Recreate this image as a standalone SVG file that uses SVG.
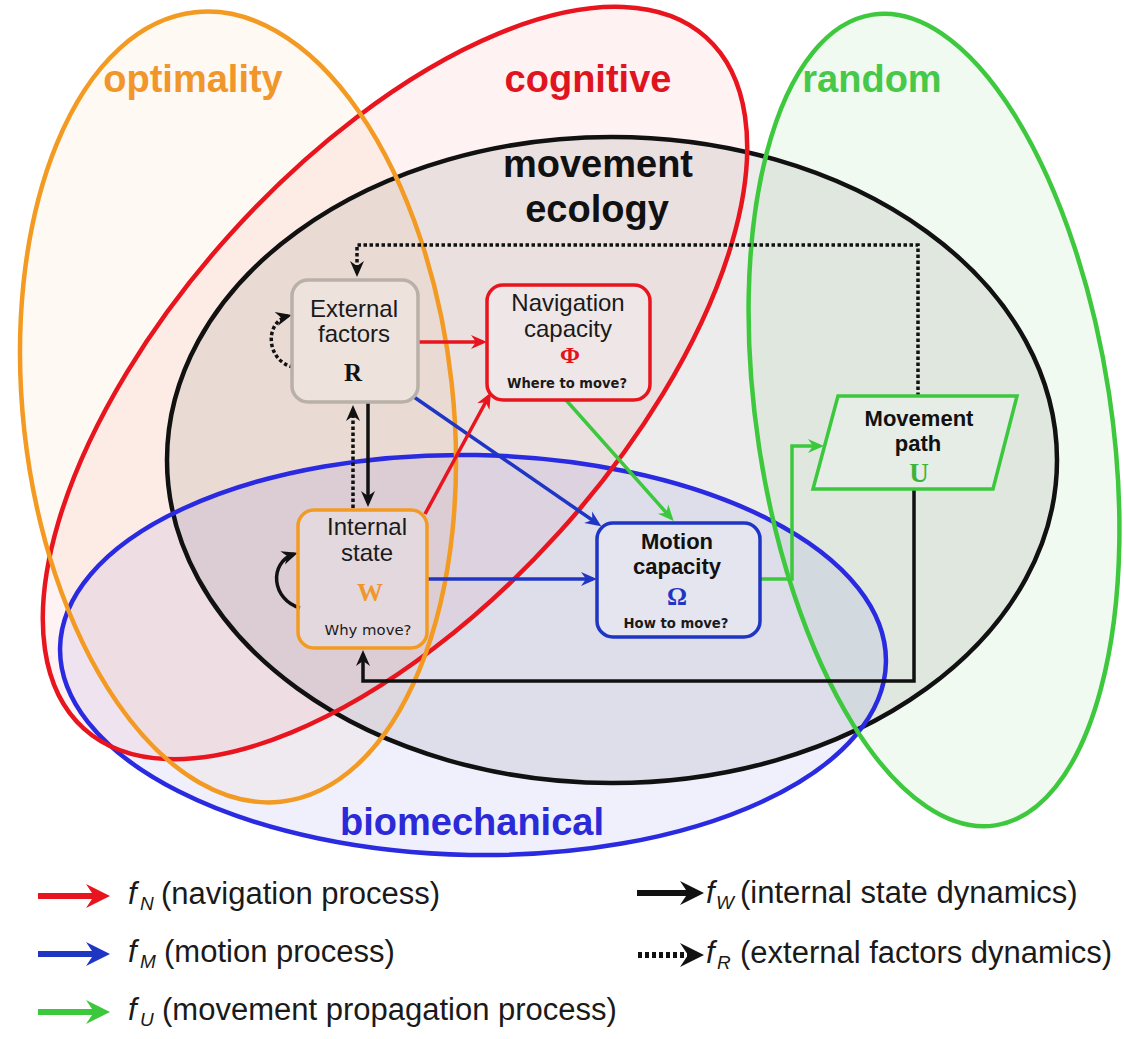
<svg xmlns="http://www.w3.org/2000/svg" width="1124" height="1039" viewBox="0 0 1124 1039">
  <defs>
    <style>
      .fill-o { fill: #f0962a; fill-opacity: 0.06; stroke: none; }
      .fill-r { fill: #e62828; fill-opacity: 0.06; stroke: none; }
      .fill-k { fill: #303030; fill-opacity: 0.09; stroke: none; }
      .fill-g { fill: #3cbe3c; fill-opacity: 0.07; stroke: none; }
      .fill-b { fill: #2828dc; fill-opacity: 0.07; stroke: none; }
      .ring { fill: none; stroke-width: 4.5; }
      .title { font-family: "Liberation Sans", Arial, sans-serif; font-weight: bold; font-size: 38px; text-anchor: middle; }
      .lbl { font-family: "Liberation Sans", Arial, sans-serif; font-size: 24px; fill: #1a1a1a; text-anchor: middle; }
      .lblb { font-family: "Liberation Sans", Arial, sans-serif; font-size: 22px; font-weight: bold; fill: #111; text-anchor: middle; }
      .sym { font-family: "Liberation Serif", "Times New Roman", serif; font-weight: bold; text-anchor: middle; }
      .q { font-family: "DejaVu Sans", Verdana, sans-serif; font-size: 14px; fill: #1a1a1a; text-anchor: middle; }
      .box { stroke-width: 3.5; fill: #ffffff; fill-opacity: 0.22; }
      .ln { fill: none; stroke-width: 3.5; }
      .dot { stroke-dasharray: 3.5 2.5; }
      .lg { font-family: "Liberation Sans", Arial, sans-serif; font-size: 31px; fill: #1a1a1a; }
      .lgi { font-family: "Liberation Sans", Arial, sans-serif; font-style: italic; fill: #1a1a1a; }
    </style>
    <marker id="ah-red" viewBox="0 0 16 16" refX="12" refY="8" markerWidth="16" markerHeight="16" markerUnits="userSpaceOnUse" orient="auto">
      <path d="M0,1 L16,8 L0,15 L5,8 Z" fill="#e8141e"/>
    </marker>
    <marker id="ah-blue" viewBox="0 0 16 16" refX="12" refY="8" markerWidth="16" markerHeight="16" markerUnits="userSpaceOnUse" orient="auto">
      <path d="M0,1 L16,8 L0,15 L5,8 Z" fill="#1f35c4"/>
    </marker>
    <marker id="ah-green" viewBox="0 0 16 16" refX="12" refY="8" markerWidth="16" markerHeight="16" markerUnits="userSpaceOnUse" orient="auto">
      <path d="M0,1 L16,8 L0,15 L5,8 Z" fill="#3cc83c"/>
    </marker>
    <marker id="ah-black" viewBox="0 0 16 16" refX="12" refY="8" markerWidth="16" markerHeight="16" markerUnits="userSpaceOnUse" orient="auto">
      <path d="M0,1 L16,8 L0,15 L5,8 Z" fill="#111111"/>
    </marker>
    <path id="lgHead" d="M0,0 L-24,-12 L-16,0 L-24,12 Z"/>
  </defs>

  <rect width="1124" height="1039" fill="#ffffff"/>

  <!-- translucent fills of the overlapping fields -->
  <g id="fields-fill">
    <ellipse class="fill-o" cx="238" cy="407" rx="215" ry="397" transform="rotate(-6.2 238 407)"/>
    <ellipse class="fill-r" cx="395" cy="383" rx="465" ry="222" transform="rotate(-48 395 383)"/>
    <ellipse class="fill-g" cx="934" cy="420" rx="177" ry="410" transform="rotate(-8.6 934 420)"/>
    <ellipse class="fill-k" cx="612" cy="460" rx="445" ry="323"/>
    <ellipse class="fill-b" cx="473" cy="655" rx="413" ry="200" transform="rotate(1 473 655)"/>
  </g>

  <!-- field outlines -->
  <g id="field-movement-ecology">
    <ellipse class="ring" stroke="#111111" cx="612" cy="460" rx="445" ry="323"/>
    <text class="title" x="598" y="177" fill="#111111">movement</text>
    <text class="title" x="597" y="222" fill="#111111">ecology</text>
  </g>
  <g id="field-biomechanical">
    <ellipse class="ring" stroke="#2a2ae0" cx="473" cy="655" rx="413" ry="200" transform="rotate(1 473 655)"/>
    <text class="title" x="472" y="835" fill="#2a2ad8">biomechanical</text>
  </g>
  <g id="field-random">
    <ellipse class="ring" stroke="#3ec83e" cx="934" cy="420" rx="177" ry="410" transform="rotate(-8.6 934 420)"/>
    <text class="title" x="872" y="92" fill="#48c848">random</text>
  </g>
  <g id="field-cognitive">
    <ellipse class="ring" stroke="#e8141e" cx="395" cy="383" rx="465" ry="222" transform="rotate(-48 395 383)"/>
    <text class="title" x="588" y="92" fill="#e0141e">cognitive</text>
  </g>
  <g id="field-optimality">
    <ellipse class="ring" stroke="#f39a22" cx="238" cy="407" rx="215" ry="397" transform="rotate(-6.2 238 407)"/>
    <text class="title" x="193" y="92" fill="#f0962a">optimality</text>
  </g>

  <!-- process connectors -->
  <g id="connectors">
    <path class="ln dot" stroke="#111111" d="M918,396 V245 H357 V273" marker-end="url(#ah-black)"/>
    <path class="ln dot" stroke="#111111" d="M293,367 C266,361 264,322 288,316" marker-end="url(#ah-black)"/>
    <path class="ln" stroke="#e8141e" d="M418,342 H483" marker-end="url(#ah-red)"/>
    <path class="ln" stroke="#1f35c4" d="M414,397 L598,524" marker-end="url(#ah-blue)"/>
    <path class="ln" stroke="#e8141e" d="M425,514 L489,396" marker-end="url(#ah-red)"/>
    <path class="ln" stroke="#3cc83c" d="M566,400 L671,518" marker-end="url(#ah-green)"/>
    <path class="ln" stroke="#1f35c4" d="M427,579 H593" marker-end="url(#ah-blue)"/>
    <path class="ln" stroke="#3cc83c" d="M760,579 H792 V446 H820" marker-end="url(#ah-green)"/>
    <path class="ln" stroke="#111111" d="M914,489 V681 H363 V654" marker-end="url(#ah-black)"/>
    <path class="ln" stroke="#111111" d="M368,403 V503" marker-end="url(#ah-black)"/>
    <path class="ln dot" stroke="#111111" d="M353,508 V409" marker-end="url(#ah-black)"/>
    <path class="ln" stroke="#111111" d="M300,608 C272,600 268,563 294,554" marker-end="url(#ah-black)"/>
  </g>

  <!-- nodes -->
  <g id="node-external-factors">
    <rect class="box" stroke="#b9b0a9" x="292" y="280" width="126" height="122" rx="16"/>
    <text class="lbl" x="354" y="317">External</text>
    <text class="lbl" x="354" y="342">factors</text>
    <text class="sym" x="353" y="381" font-size="25" fill="#111111">R</text>
  </g>
  <g id="node-navigation-capacity">
    <rect class="box" stroke="#e8141e" x="487" y="285" width="163" height="115" rx="16"/>
    <text class="lbl" x="568" y="311">Navigation</text>
    <text class="lbl" x="568" y="337">capacity</text>
    <text class="sym" x="570" y="363" font-size="24" fill="#e0141e">Φ</text>
    <text class="q" x="567" y="388" font-weight="bold" textLength="120" lengthAdjust="spacingAndGlyphs">Where to move?</text>
  </g>
  <g id="node-internal-state">
    <rect class="box" stroke="#f39a22" x="298" y="510" width="129" height="138" rx="16"/>
    <text class="lbl" x="367" y="535">Internal</text>
    <text class="lbl" x="367" y="561">state</text>
    <text class="sym" x="370" y="601" font-size="26" fill="#f0962a">W</text>
    <text class="q" x="368" y="635" textLength="87" lengthAdjust="spacingAndGlyphs">Why move?</text>
  </g>
  <g id="node-motion-capacity">
    <rect class="box" stroke="#1f35c4" x="597" y="523" width="163" height="114" rx="16"/>
    <text class="lblb" x="677" y="549">Motion</text>
    <text class="lblb" x="677" y="574">capacity</text>
    <text class="sym" x="677" y="605" font-size="25" fill="#1f35c4">Ω</text>
    <text class="q" x="676" y="628" font-weight="bold" textLength="105" lengthAdjust="spacingAndGlyphs">How to move?</text>
  </g>
  <g id="node-movement-path">
    <polygon class="box" stroke="#3cc83c" points="838,396 1017,396 993,489 813,489"/>
    <text class="lblb" x="919" y="426">Movement</text>
    <text class="lblb" x="918" y="451">path</text>
    <text class="sym" x="919" y="482" font-size="27" fill="#3cb43c">U</text>
  </g>

  <!-- legend -->
  <g id="legend">
    <path d="M38,896 H94" stroke="#e8141e" stroke-width="6" fill="none"/>
    <use href="#lgHead" x="110" y="896" fill="#e8141e"/>
    <text class="lgi" x="128" y="904" font-size="31">f</text>
    <text class="lgi" x="140" y="910" font-size="19">N</text>
    <text class="lg" x="161" y="904">(navigation process)</text>

    <path d="M38,954 H94" stroke="#1f35c4" stroke-width="6" fill="none"/>
    <use href="#lgHead" x="110" y="954" fill="#1f35c4"/>
    <text class="lgi" x="128" y="962" font-size="31">f</text>
    <text class="lgi" x="140" y="968" font-size="19">M</text>
    <text class="lg" x="164" y="962">(motion process)</text>

    <path d="M38,1012 H94" stroke="#3cc83c" stroke-width="6" fill="none"/>
    <use href="#lgHead" x="110" y="1012" fill="#3cc83c"/>
    <text class="lgi" x="128" y="1020" font-size="31">f</text>
    <text class="lgi" x="140" y="1026" font-size="19">U</text>
    <text class="lg" x="162" y="1020">(movement propagation process)</text>

    <path d="M637,893 H688" stroke="#111111" stroke-width="6" fill="none"/>
    <use href="#lgHead" x="704" y="893" fill="#111111"/>
    <text class="lgi" x="706" y="903" font-size="31">f</text>
    <text class="lgi" x="716" y="909" font-size="19">W</text>
    <text class="lg" x="740" y="903">(internal state dynamics)</text>

    <path d="M638,955 H688" stroke="#111111" stroke-width="6" stroke-dasharray="4 3" fill="none"/>
    <use href="#lgHead" x="704" y="955" fill="#111111"/>
    <text class="lgi" x="706" y="963" font-size="31">f</text>
    <text class="lgi" x="717" y="969" font-size="19">R</text>
    <text class="lg" x="740" y="963">(external factors dynamics)</text>
  </g>
</svg>
